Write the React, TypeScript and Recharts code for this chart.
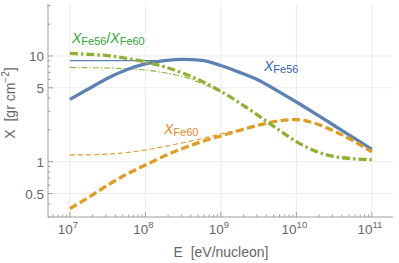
import React from "react"
import { LineChart, Line, XAxis, YAxis, ReferenceLine } from "recharts"

// energy grid, quarter decades from 1e7 to 1e11 eV/nucleon
const energies = [
  1e7, 1.778e7, 3.162e7, 5.623e7, 1e8, 1.778e8, 3.162e8, 5.623e8, 1e9,
  1.778e9, 3.162e9, 5.623e9, 1e10, 1.778e10, 3.162e10, 5.623e10, 1e11,
]

// X_Fe56 (blue, thick solid)
const xFe56 = [3.89, 4.9, 6.15, 7.4, 8.4, 9.02, 9.3, 9.08, 8.13, 7.0, 5.9, 4.68, 3.67, 2.85, 2.2, 1.7, 1.31]
// thin blue, only up to where it joins
const xFe56Thin = [9.05, 9.05, 9.05, 9.05, 9.05, 9.05]

// X_Fe60 (orange, thick dashed)
const xFe60 = [0.36, 0.46, 0.6, 0.76, 0.93, 1.13, 1.34, 1.55, 1.75, 1.98, 2.22, 2.42, 2.5, 2.3, 1.95, 1.58, 1.24]
const xFe60Thin = [1.16, 1.16, 1.18, 1.22, 1.29, 1.39, 1.51, 1.65, 1.83, 2.0]

// ratio X_Fe56 / X_Fe60 (green, dash-dot)
const ratio = [10.6, 10.35, 10.07, 9.5, 8.8, 7.9, 6.86, 5.75, 4.62, 3.59, 2.72, 2.04, 1.55, 1.26, 1.12, 1.067, 1.047]
const ratioThin = [7.8, 7.75, 7.7, 7.55, 7.35, 6.95, 6.37, 5.5, 4.62]

const xMajor = [1e7, 1e8, 1e9, 1e10, 1e11]
const yMajor = [0.5, 1, 5, 10]
const yMajorLabels = ["0.5", "1", "5", "10"]

const xMinor: number[] = []
for (let d = 6; d <= 11; d++) for (let m = 2; m <= 9; m++) xMinor.push(m * Math.pow(10, d))
const xTicks = [...xMajor, ...xMinor.filter((v) => v > 5.2e6 && v < 1.9e11)]
const yTicks = [...yMajor, 0.3, 0.4, 0.6, 0.7, 0.8, 0.9, 2, 3, 4, 6, 7, 8, 9, 20, 30]

const X_DOMAIN = [5.13e6, 1.905e11]
const Y_DOMAIN = [0.3, 31]

const FRAME = "#9d9d9d"
const GRID = "#ececec"
const TICK_TEXT = "#666"
const FONT = "'Liberation Sans', Arial, sans-serif"

const BLUE = "#5e81b5"
const ORANGE = "#e19c24"
const GREEN = "#8fb032"

const toRows = (vals: number[]) => vals.map((x, i) => ({ e: energies[i], x }))

const BottomTick = (p: any) => {
  const v = p.payload.value
  const major = xMajor.includes(v)
  return (
    <g>
      <line x1={p.x} x2={p.x} y1={p.y} y2={p.y - (major ? 5 : 2.5)} stroke={FRAME} />
      {major && (
        <text x={p.x - 2} y={p.y + 17} textAnchor="middle" fill={TICK_TEXT} fontSize={13.5} fontFamily={FONT}>
          <tspan>10</tspan>
          <tspan dy={-6} fontSize={9.5}>{Math.round(Math.log10(v))}</tspan>
        </text>
      )}
    </g>
  )
}

const TopTick = (p: any) => {
  const major = xMajor.includes(p.payload.value)
  return <line x1={p.x} x2={p.x} y1={p.y} y2={p.y + (major ? 5 : 2.5)} stroke={FRAME} />
}

const LeftTick = (p: any) => {
  const i = yMajor.indexOf(p.payload.value)
  return (
    <g>
      <line x1={p.x} x2={p.x + (i >= 0 ? 5 : 2.5)} y1={p.y} y2={p.y} stroke={FRAME} />
      {i >= 0 && (
        <text x={p.x - 4} y={p.y + 5} textAnchor="end" fill={TICK_TEXT} fontSize={13.5} fontFamily={FONT}>
          {yMajorLabels[i]}
        </text>
      )}
    </g>
  )
}

const RightTick = (p: any) => {
  const major = yMajor.includes(p.payload.value)
  return <line x1={p.x} x2={p.x - (major ? 5 : 2.5)} y1={p.y} y2={p.y} stroke={FRAME} />
}

const SeriesLabel = ({ x, y, sub, color }: { x: number; y: number; sub: string; color: string }) => (
  <>
    <tspan x={x} y={y} fontStyle="italic" fontSize={14} fill={color}>X</tspan>
    <tspan dy={2} fontSize={11} fill={color}>{sub}</tspan>
  </>
)

export default function App() {
  return (
    <div style={{ position: "absolute", left: 0, top: 0, width: 399, height: 263, background: "#fff" }}>
      <LineChart width={399} height={263} margin={{ top: 4, right: 6, bottom: 0, left: 0 }}>
        <XAxis
          dataKey="e"
          type="number"
          scale="log"
          domain={X_DOMAIN}
          allowDataOverflow
          ticks={xTicks}
          interval={0}
          height={46}
          tickSize={0}
          tickMargin={0}
          tickLine={false}
          axisLine={{ stroke: FRAME }}
          tick={BottomTick}
        />
        <XAxis
          xAxisId="top"
          orientation="top"
          dataKey="e"
          type="number"
          scale="log"
          domain={X_DOMAIN}
          allowDataOverflow
          ticks={xTicks}
          interval={0}
          height={0}
          tickSize={0}
          tickMargin={0}
          tickLine={false}
          axisLine={{ stroke: FRAME }}
          tick={TopTick}
        />
        <YAxis
          type="number"
          scale="log"
          domain={Y_DOMAIN}
          allowDataOverflow
          ticks={yTicks}
          interval={0}
          width={48}
          tickSize={0}
          tickMargin={0}
          tickLine={false}
          axisLine={{ stroke: FRAME }}
          tick={LeftTick}
        />
        <YAxis
          yAxisId="right"
          orientation="right"
          type="number"
          scale="log"
          domain={Y_DOMAIN}
          allowDataOverflow
          ticks={yTicks}
          interval={0}
          width={0}
          tickSize={0}
          tickMargin={0}
          tickLine={false}
          axisLine={{ stroke: FRAME }}
          tick={RightTick}
        />

        {xMajor.map((v) => (
          <ReferenceLine key={"gx" + v} x={v} stroke={GRID} />
        ))}
        {yMajor.map((v) => (
          <ReferenceLine key={"gy" + v} y={v} stroke={GRID} />
        ))}

        <Line data={toRows(xFe56Thin)} dataKey="x" type="monotone" stroke={BLUE} strokeWidth={1.3} dot={false} isAnimationActive={false} />
        <Line data={toRows(xFe60Thin)} dataKey="x" type="monotone" stroke={ORANGE} strokeWidth={1.1} strokeDasharray="5 3" dot={false} isAnimationActive={false} />
        <Line data={toRows(ratioThin)} dataKey="x" type="monotone" stroke={GREEN} strokeWidth={1.1} strokeDasharray="6 2 1.5 2" dot={false} isAnimationActive={false} />
        <Line data={toRows(xFe56)} dataKey="x" type="monotone" stroke={BLUE} strokeWidth={3.3} dot={false} isAnimationActive={false} />
        <Line data={toRows(xFe60)} dataKey="x" type="monotone" stroke={ORANGE} strokeWidth={3.3} strokeDasharray="8 3.5" dot={false} isAnimationActive={false} />
        <Line data={toRows(ratio)} dataKey="x" type="monotone" stroke={GREEN} strokeWidth={3.3} strokeDasharray="8 3 2.5 3" dot={false} isAnimationActive={false} />
      </LineChart>

      <svg width={399} height={263} style={{ position: "absolute", left: 0, top: 0, pointerEvents: "none" }} fontFamily={FONT}>
        <text>
          <SeriesLabel x={72} y={43} sub="Fe56" color="#31a531" />
          <tspan dy={-2} fontSize={14} fill="#31a531">/</tspan>
          <tspan fontStyle="italic" fontSize={14} fill="#31a531">X</tspan>
          <tspan dy={2} fontSize={11} fill="#31a531">Fe60</tspan>
        </text>
        <text>
          <SeriesLabel x={264} y={71} sub="Fe56" color="#2f62b3" />
        </text>
        <text>
          <SeriesLabel x={164} y={134} sub="Fe60" color="#e5862a" />
        </text>

        <text x={221} y={257} textAnchor="middle" fill={TICK_TEXT} fontSize={14}>
          E {"\u00a0"}[eV/nucleon]
        </text>
        <text transform="translate(15,103) rotate(-90)" textAnchor="middle" fill={TICK_TEXT} fontSize={14}>
          <tspan>X {"\u00a0"}[gr cm</tspan>
          <tspan dy={-6} fontSize={10}>−2</tspan>
          <tspan dy={6}>]</tspan>
        </text>
      </svg>
    </div>
  )
}
